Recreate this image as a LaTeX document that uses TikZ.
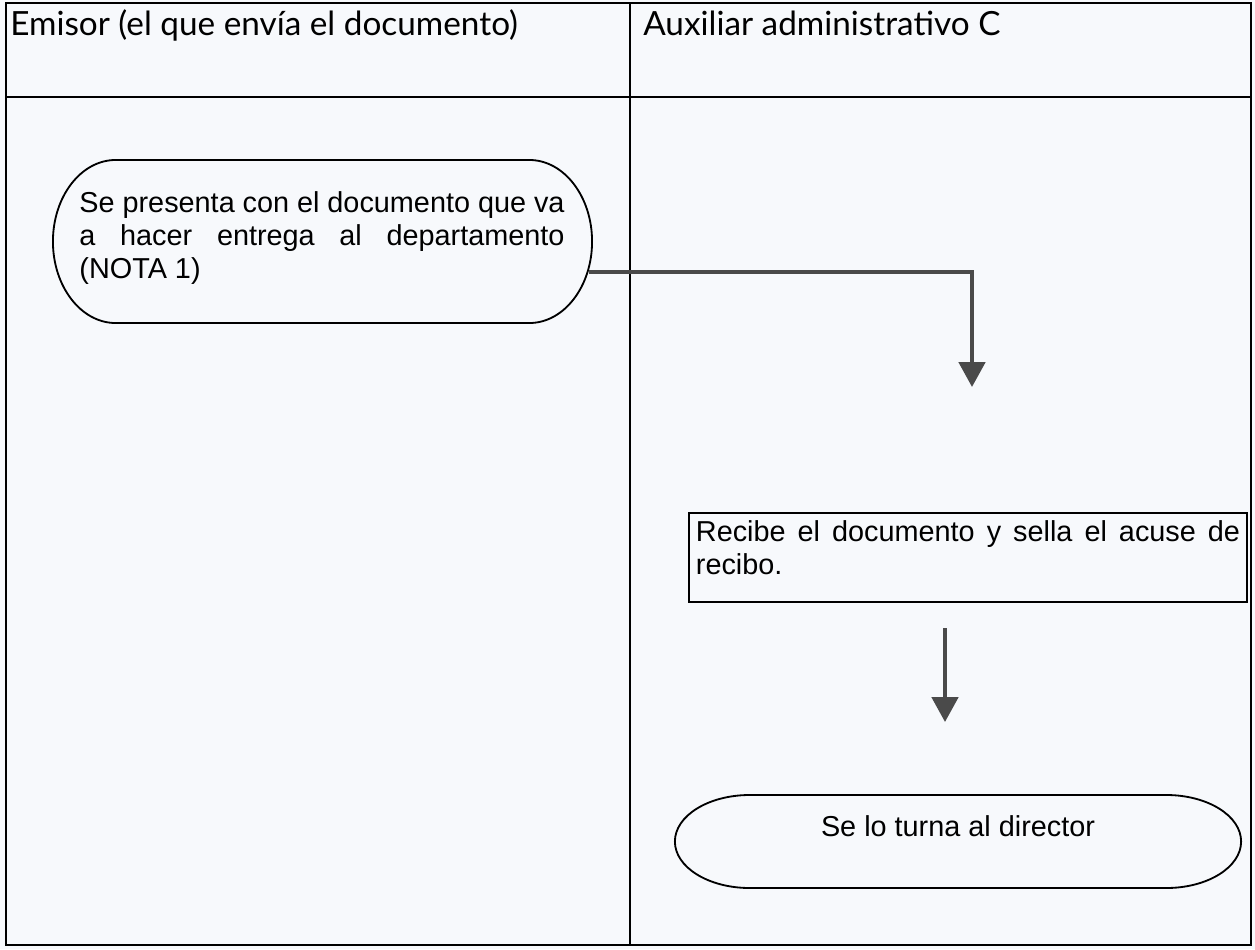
\documentclass[tikz,border=0pt]{standalone}
\usepackage{fontspec}
\setmainfont{Liberation Sans}
\newfontfamily\fuentecab{Lato}
\usetikzlibrary{positioning,arrows.meta,shapes.misc}
\definecolor{fondo}{HTML}{F7F9FC}
\definecolor{gris}{HTML}{4A4A4A}

\begin{document}
\begin{tikzpicture}[x=0.025cm,y=-0.025cm,
	tabla/.style={line width=1pt,black},
	terminal/.style={draw,line width=1.3pt,rounded rectangle,inner sep=0pt},
	caja/.style={draw,line width=1.2pt,inner xsep=0.175cm,inner ysep=0.2cm,text width=13.6cm,align=justify,font=\fontsize{20.5}{23.5}\selectfont},
	texto/.style={inner sep=0pt,font=\fontsize{20.5}{23.5}\selectfont},
	cab/.style={inner sep=0pt,anchor=base west,font=\fuentecab\fontsize{23.7}{26}\selectfont},
	flecha/.style={draw=gris,line width=3pt,-{Triangle[width=0.65cm,length=0.62cm]}}]
	\useasboundingbox (0,0) rectangle (1255,949);
	\fill[fondo] (0,0) rectangle (1255,949);
	
	% tabla de dos columnas
	\draw[tabla] (6,3) rectangle (1251,945);
	\draw[tabla] (6,97) -- (1251,97);
	\draw[tabla] (630,3) -- (630,945);
	\node[cab] (emisor) at (10,35) {Emisor (el que envía el documento)};
	\node[cab] (auxiliar) at (643,35) {Auxiliar administrativo C};
	
	% emisor
	\node[terminal,xscale=0.77,minimum width=17.5cm,minimum height=4.075cm] (presenta) at (322.5,241.5) {};
	\node[texto,anchor=north,text width=12.125cm,align=justify] (presentatxt) at (322,191)
		{Se presenta con el documento que va\linebreak a hacer entrega al departamento\linebreak (NOTA 1)};
	
	% auxiliar administrativo
	\node[caja,anchor=north] (recibe) at (968,512)
		{Recibe el documento y sella el acuse de\linebreak recibo.\rule[-0.475cm]{0pt}{0.475cm}};
	\node[terminal,xscale=1.61,minimum width=8.79cm,minimum height=2.325cm] (turna) at (958,841.5) {};
	\node[texto,anchor=base] (turnatxt) at (958,836) {Se lo turna al director};
	
	% flechas
	\coordinate (fin1) at (972,387);
	\coordinate (ini2) at (945,628);
	\coordinate (fin2) at (945,722);
	\draw[flecha] ([xshift=-0.1cm,yshift=-0.76cm]presenta.east) -| (fin1);
	\draw[flecha] (ini2) -- (fin2);
\end{tikzpicture}
\end{document}
